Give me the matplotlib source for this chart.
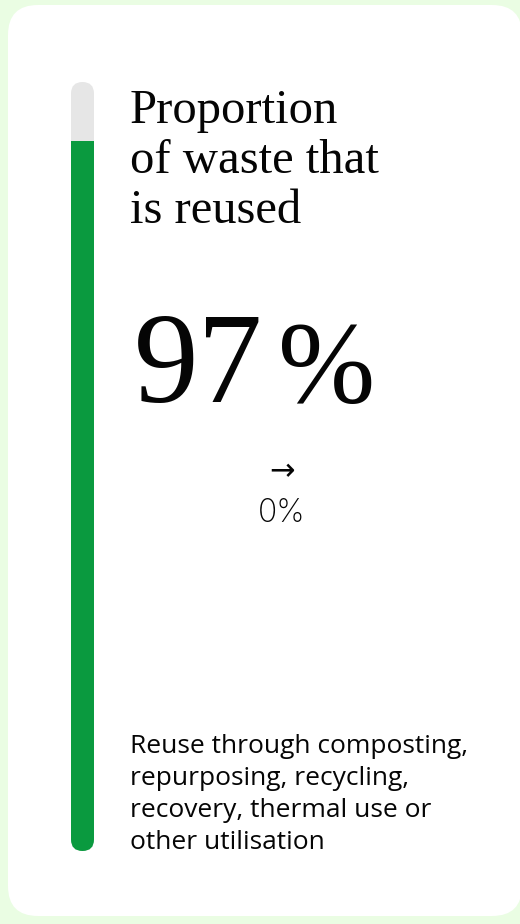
import matplotlib
matplotlib.use("Agg")
import matplotlib.pyplot as plt
from matplotlib.patches import FancyBboxPatch

# --- data ---
title_lines = ["Proportion", "of waste that", "is reused"]
share_value = 97          # headline figure, %
share_unit = "%"
change_value = 0          # change vs previous period, %
bar_level = 92.3          # filled part of the progress bar, %
bar_max = 100
note_lines = ["Reuse through composting,", "repurposing, recycling,",
              "recovery, thermal use or", "other utilisation"]

# --- style ---
W, H, DPI = 520, 924, 100
bg_outer = "#eafde3"
card_col = "#ffffff"
green = "#0a9a3f"
track_col = "#e6e6e6"
ink = "#050505"
serif = ["Liberation Serif", "DejaVu Serif"]
sans = ["Open Sans", "DejaVu Sans"]

fig = plt.figure(figsize=(W / DPI, H / DPI), dpi=DPI, facecolor=bg_outer)

# pixel canvas: x right, y down
ax = fig.add_axes([0, 0, 1, 1])
ax.set_xlim(0, W); ax.set_ylim(H, 0)
ax.axis("off")

card = FancyBboxPatch((8, 5), 514, 911, boxstyle="round,pad=0,rounding_size=30",
                      fc=card_col, ec="none")
ax.add_patch(card)

# --- progress bar in its own axes (0..bar_max upward) ---
bx, by_top, bw, bh = 71, 82, 23, 769
bax = fig.add_axes([bx / W, 1 - (by_top + bh) / H, bw / W, bh / H])
bax.set_xlim(0, 1); bax.set_ylim(0, bar_max)
bax.axis("off")
r_px = bw / 2
asp = (r_px * bar_max / bh) / (r_px / bw)
track = FancyBboxPatch((0, 0), 1, bar_max, boxstyle="round,pad=0,rounding_size=0.5",
                       mutation_aspect=asp, fc=track_col, ec="none")
bax.add_patch(track)
bars = bax.bar([0.5], [bar_level], width=1, color=green, linewidth=0)
for b in bars:
    b.set_clip_path(track)

# --- texts ---
for i, line in enumerate(title_lines):
    ax.text(130, 123 + i * 50, line, family=serif, fontsize=35, color=ink,
            ha="left", va="baseline")

ax.text(134, 402, f"{share_value}", family=serif, fontsize=93, color=ink,
        ha="left", va="baseline")
ax.text(278, 402, share_unit, family=serif, fontsize=84, color=ink,
        ha="left", va="baseline")

ax.text(282, 472, "\u2192", family=["DejaVu Sans"], fontsize=22, color=ink,
        ha="center", va="center")
ax.text(282, 522, f"{change_value}%", family=["Inter", "DejaVu Sans"], fontsize=23,
        color=ink, ha="center", va="baseline", fontweight="light")

for i, line in enumerate(note_lines):
    ax.text(130, 753 + i * 32, line, family=sans, fontsize=19, color=ink,
            ha="left", va="baseline")

fig.savefig("out.png", dpi=DPI, facecolor=bg_outer)
